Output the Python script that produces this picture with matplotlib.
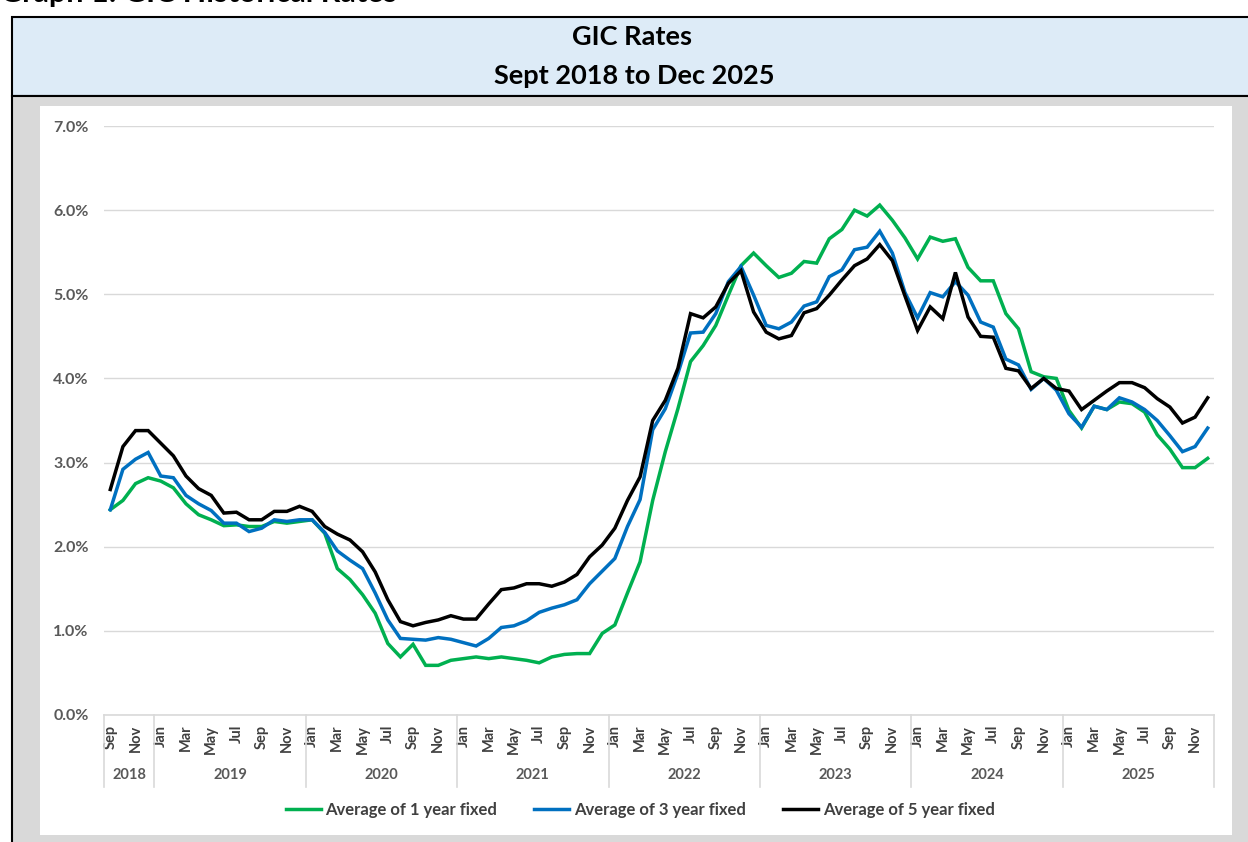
import matplotlib
matplotlib.use("Agg")
import matplotlib.pyplot as plt
from matplotlib.patches import Rectangle
from matplotlib.lines import Line2D
import numpy as np

plt.rcParams['font.family'] = ['Lato', 'DejaVu Sans']

# --- data (Sep 2018 .. Dec 2025, monthly averages in %) ---
years = ["2018", "2019", "2020", "2021", "2022", "2023", "2024", "2025"]
months_per_year = [4, 12, 12, 12, 12, 12, 12, 12]
month_names = ["Jan", "Feb", "Mar", "Apr", "May", "Jun",
               "Jul", "Aug", "Sep", "Oct", "Nov", "Dec"]

one_year = [2.44, 2.55, 2.75, 2.82,
            2.78, 2.70, 2.51, 2.38, 2.32, 2.25, 2.26, 2.24, 2.24, 2.30, 2.28, 2.30,
            2.32, 2.16, 1.74, 1.61, 1.43, 1.21, 0.85, 0.69, 0.84, 0.59, 0.59, 0.65,
            0.67, 0.69, 0.67, 0.69, 0.67, 0.65, 0.62, 0.69, 0.72, 0.73, 0.73, 0.97,
            1.07, 1.45, 1.82, 2.55, 3.13, 3.64, 4.20, 4.39, 4.63, 4.99, 5.34, 5.49,
            5.34, 5.20, 5.25, 5.39, 5.37, 5.66, 5.77, 6.00, 5.93, 6.06, 5.88, 5.67,
            5.42, 5.68, 5.63, 5.66, 5.32, 5.16, 5.16, 4.77, 4.59, 4.08, 4.02, 4.00,
            3.62, 3.41, 3.67, 3.63, 3.72, 3.70, 3.60, 3.33, 3.16, 2.94, 2.94, 3.05]

three_year = [2.44, 2.92, 3.04, 3.12,
              2.84, 2.82, 2.61, 2.51, 2.43, 2.28, 2.28, 2.18, 2.22, 2.32, 2.30, 2.32,
              2.32, 2.17, 1.95, 1.84, 1.74, 1.45, 1.13, 0.91, 0.90, 0.89, 0.92, 0.90,
              0.86, 0.82, 0.91, 1.04, 1.06, 1.12, 1.22, 1.27, 1.31, 1.37, 1.56, 1.71,
              1.86, 2.24, 2.56, 3.39, 3.64, 4.06, 4.54, 4.55, 4.77, 5.15, 5.33, 4.99,
              4.63, 4.59, 4.67, 4.86, 4.91, 5.21, 5.29, 5.53, 5.56, 5.75, 5.49, 5.02,
              4.72, 5.02, 4.97, 5.15, 4.99, 4.67, 4.61, 4.23, 4.16, 3.87, 4.00, 3.86,
              3.58, 3.42, 3.67, 3.63, 3.77, 3.72, 3.63, 3.50, 3.32, 3.13, 3.19, 3.41]

five_year = [2.68, 3.19, 3.38, 3.38,
             3.23, 3.08, 2.84, 2.69, 2.61, 2.40, 2.41, 2.32, 2.32, 2.42, 2.42, 2.48,
             2.42, 2.24, 2.15, 2.08, 1.94, 1.70, 1.37, 1.11, 1.06, 1.10, 1.13, 1.18,
             1.14, 1.14, 1.32, 1.49, 1.51, 1.56, 1.56, 1.53, 1.58, 1.67, 1.88, 2.02,
             2.22, 2.55, 2.83, 3.50, 3.74, 4.12, 4.77, 4.72, 4.85, 5.13, 5.28, 4.79,
             4.55, 4.47, 4.51, 4.78, 4.83, 4.99, 5.17, 5.34, 5.42, 5.59, 5.40, 4.98,
             4.57, 4.85, 4.71, 5.26, 4.73, 4.50, 4.49, 4.12, 4.09, 3.88, 4.00, 3.88,
             3.85, 3.63, 3.74, 3.85, 3.95, 3.95, 3.89, 3.76, 3.66, 3.47, 3.54, 3.77]

series_labels = ["Average of 1 year fixed", "Average of 3 year fixed", "Average of 5 year fixed"]
series_colors = ["#00B050", "#0070C0", "#000000"]

# month label for every category (Sep 2018 first)
cat_months = month_names[8:] + month_names * 7
x = np.arange(len(one_year))

W, H = 1248, 842
fig = plt.figure(figsize=(W / 100, H / 100), dpi=100)

# background drawing in pixel coordinates
bg = fig.add_axes([0, 0, 1, 1], zorder=-5)
bg.set_xlim(0, W)
bg.set_ylim(H, 0)
bg.axis("off")
bg.add_patch(Rectangle((12, 17), W, 79, facecolor="#DDEBF7", edgecolor="black", lw=1.5))
bg.add_patch(Rectangle((12, 96), W, H, facecolor="#D9D9D9", edgecolor="black", lw=1.5))
bg.add_patch(Rectangle((40, 106), 1192, 729, facecolor="white", edgecolor="none"))
bg.text(632, 37, "GIC Rates", ha="center", va="center", fontsize=19.5, fontweight="bold")
bg.text(634, 76, "Sept 2018 to Dec 2025", ha="center", va="center", fontsize=19.5, fontweight="bold")
# heading above the chart, cut off by the top edge as in the original screenshot
bg.text(0, 2, "Graph 1: GIC Historical Rates", ha="left", va="baseline",
        fontsize=22, fontweight="bold")

# main chart
ax = fig.add_axes([104 / W, 1 - 715 / H, (1214 - 104) / W, (715 - 126) / H])
ax.set_facecolor("none")
for vals, lab, col in zip([one_year, three_year, five_year], series_labels, series_colors):
    ax.plot(x, vals, color=col, lw=2.5, label=lab, solid_joinstyle="miter")

ax.set_xlim(-0.5, len(x) - 0.5)
ax.set_ylim(0, 7)
ax.set_yticks(np.arange(0, 7.01, 1.0))
ax.set_yticklabels([f"{v:.1f}%" for v in np.arange(0, 7.01, 1.0)],
                   fontsize=11.5, fontweight="bold", color="#595959")
ax.yaxis.grid(True, color="#D9D9D9", lw=1)
ax.set_axisbelow(True)
ax.tick_params(axis="y", length=0, pad=11)
for s in ["top", "right", "left"]:
    ax.spines[s].set_visible(False)
ax.spines["bottom"].set_color("#D9D9D9")
ax.spines["bottom"].set_linewidth(1.2)

# month tick labels (every second month)
ax.set_xticks(x[::2])
ax.set_xticklabels(cat_months[::2], rotation=90, fontsize=10.5, fontweight="bold",
                   color="#404040", va="top", ha="center")
ax.tick_params(axis="x", length=0, pad=7)

# year groups
sep_y = -(787 - 715) / (715 - 126)
yr_y = -(775 - 715) / (715 - 126)
bounds = [-0.5]
for n in months_per_year:
    bounds.append(bounds[-1] + n)
for b in bounds:
    ax.plot([b, b], [0, sep_y], transform=ax.get_xaxis_transform(),
            color="#D9D9D9", lw=1.2, clip_on=False)
for yr, a, b in zip(years, bounds[:-1], bounds[1:]):
    ax.text((a + b) / 2, yr_y, yr, transform=ax.get_xaxis_transform(),
            ha="center", va="center", fontsize=10.5, fontweight="bold", color="#595959")

# legend
handles = [Line2D([], [], color=c, lw=2.5) for c in series_colors]
leg = fig.legend(handles, series_labels, loc="center", ncol=3,
                 bbox_to_anchor=(640 / W, 1 - 810 / H), frameon=False,
                 handlelength=2.1, handletextpad=0.3, columnspacing=2.2,
                 prop={"weight": "bold", "size": 12})
for t in leg.get_texts():
    t.set_color("#404040")

fig.savefig("out.png", dpi=100)
